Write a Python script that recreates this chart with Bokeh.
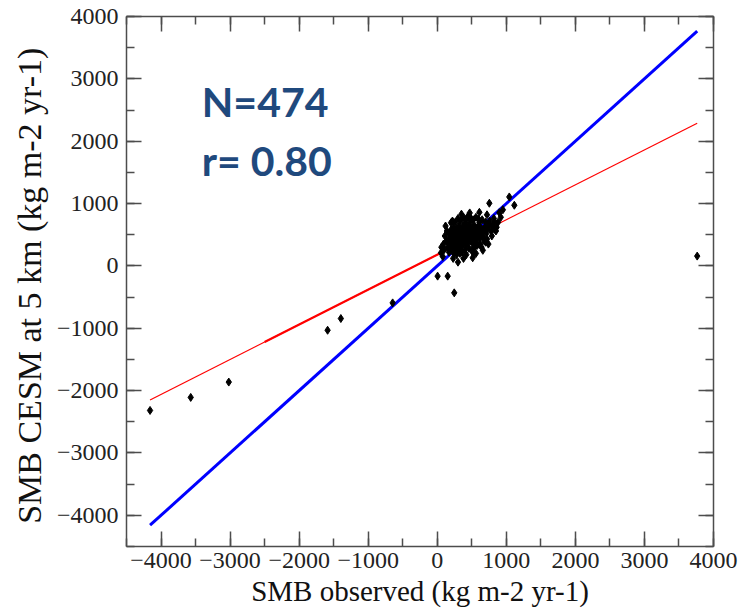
from bokeh.plotting import figure
from bokeh.models import Range1d, LinearAxis, SingleIntervalTicker, Label, CustomJSTickFormatter, BasicTickFormatter
from bokeh.core.properties import value
from bokeh.embed import file_html
from bokeh.resources import INLINE

# ---- data ----
smb_observed = [
    -4159, -3570, -3019, -1588, -1396, -646, 3764,
    5, 151, 246, 1043, 1116, 754, 899, 464, 199, 826, 681, 513, 54,
    150, 160, 170, 180, 190, 200, 210, 215, 225, 235, 240, 250, 255, 265, 270,
    280, 285, 295, 300, 305, 315, 320, 330, 335, 345, 350, 360, 365, 375, 380,
    390, 395, 400, 410, 415, 425, 430, 440, 445, 455, 460, 470, 475, 485, 490,
    500, 510, 515, 525, 530, 540, 550, 560, 570, 580, 590, 600, 615, 630, 640,
    655, 670, 690, 710, 730, 750, 780, 800, 830, 860,
    60, 90, 100, 110, 130, 140, 170, 190, 220, 240, 260, 280, 300, 320, 340,
    360, 380, 400, 420, 440, 460, 480, 500, 520, 540, 560, 580, 600, 620, 650,
    680, 700, 720, 760, 790, 820, 850, 420, 520, 640, 700, 330, 270, 610, 560,
    950, 920, 880, 610, 720, 380, 300, 120, 80, 660, 740, 560, 470, 350, 230,
]
smb_cesm = [
    -2318, -2109, -1863, -1032, -844, -593, 157,
    -164, -164, -432, 1106, 973, 1005, 854, 801, 693, 587, 426, 130, 210,
    300, 420, 520, 360, 460, 580, 300, 400, 500, 620, 350, 450, 540, 280, 380,
    480, 600, 330, 420, 520, 650, 380, 460, 560, 300, 420, 500, 620, 360, 450,
    540, 680, 400, 480, 580, 330, 440, 520, 640, 380, 470, 560, 700, 420, 500,
    600, 360, 460, 540, 660, 420, 500, 600, 380, 470, 560, 650, 440, 520, 600,
    480, 560, 620, 520, 600, 660, 560, 640, 700, 620,
    300, 350, 260, 480, 400, 560, 220, 250, 720, 200, 700, 180, 760, 240, 730,
    220, 780, 260, 740, 790, 280, 770, 250, 740, 300, 780, 330, 750, 350, 740,
    400, 700, 430, 720, 480, 760, 560, 180, 210, 300, 380, 200, 230, 700, 330,
    900, 780, 700, 860, 820, 120, 60, 640, 150, 250, 350, 200, 850, 830, 120,
]
reg_slope = 0.56       # regression of CESM on observed
reg_intercept = 180.0
n_label = "N=474"
r_label = "r= 0.80"
ticks_interval = 1000

SERIF = "'Liberation Serif', 'Times New Roman', serif"

# ---- figure ----
p = figure(width=756, height=611, x_range=Range1d(-4500, 4000), y_range=Range1d(-4500, 4000),
           output_backend="svg", toolbar_location=None,
           min_border_left=126, min_border_right=43, min_border_top=16, min_border_bottom=65)
p.grid.visible = False
p.outline_line_color = None
p.background_fill_color = "white"
p.border_fill_color = "white"

axis_color = "#4d4d4d"


def style_axis(ax):
    ax.ticker = SingleIntervalTicker(interval=ticks_interval, num_minor_ticks=2)
    ax.major_tick_in = 15
    ax.major_tick_out = 0
    ax.minor_tick_in = 8
    ax.minor_tick_out = 0
    ax.axis_line_color = axis_color
    ax.axis_line_width = 1.5
    ax.major_tick_line_color = axis_color
    ax.major_tick_line_width = 1.5
    ax.minor_tick_line_color = axis_color
    ax.minor_tick_line_width = 1.5


for ax in [p.xaxis[0], p.yaxis[0]]:
    style_axis(ax)
    ax.formatter = BasicTickFormatter(use_scientific=False)
    ax.major_label_text_font = SERIF
    ax.major_label_text_font_size = "24px"
    ax.major_label_text_font_style = "normal"
    ax.major_label_text_color = "#222222"
    ax.axis_label_text_font = SERIF
    ax.axis_label_text_font_style = "normal"
    ax.axis_label_text_color = "#111111"

p.xaxis[0].axis_label = "SMB observed (kg m-2 yr-1)"
p.yaxis[0].axis_label = "SMB CESM at 5 km  (kg m-2 yr-1)"
p.xaxis[0].axis_label_text_font_size = "29px"
p.yaxis[0].axis_label_text_font_size = "34px"
p.xaxis[0].major_label_standoff = 6
p.xaxis[0].axis_label_standoff = 4
p.yaxis[0].major_label_standoff = 8
p.yaxis[0].axis_label_standoff = 6

for loc in ["above", "right"]:
    ax = LinearAxis(formatter=CustomJSTickFormatter(code="return ''"))
    style_axis(ax)
    ax.major_label_text_font_size = "1px"
    ax.major_label_standoff = 0
    p.add_layout(ax, loc)

# ---- lines ----
x_min = min(smb_observed)
x_max = max(smb_observed)
p.line([x_min, x_max], [x_min, x_max], line_color="#0000ff", line_width=3)
p.line([x_min, x_max], [reg_intercept + reg_slope * x_min, reg_intercept + reg_slope * x_max],
       line_color="#ff0000", line_width=1.2)
seg_lo, seg_hi = -2500, 750
p.line([seg_lo, seg_hi], [reg_intercept + reg_slope * seg_lo, reg_intercept + reg_slope * seg_hi],
       line_color="#ff0000", line_width=2.2)

# ---- points ----
p.scatter(smb_observed, smb_cesm, marker="diamond", size=8, fill_color="black", line_color="black")

# ---- annotations ----
p.add_layout(Label(x=-3410, y=2240, text=n_label, text_font="Lato", text_font_style="bold",
                   text_font_size="41px", text_color="#1F497D"))
p.add_layout(Label(x=-3410, y=1290, text=r_label, text_font="Lato", text_font_style="bold",
                   text_font_size="41px", text_color="#1F497D"))

open("out.html", "w").write(file_html(p, INLINE))
